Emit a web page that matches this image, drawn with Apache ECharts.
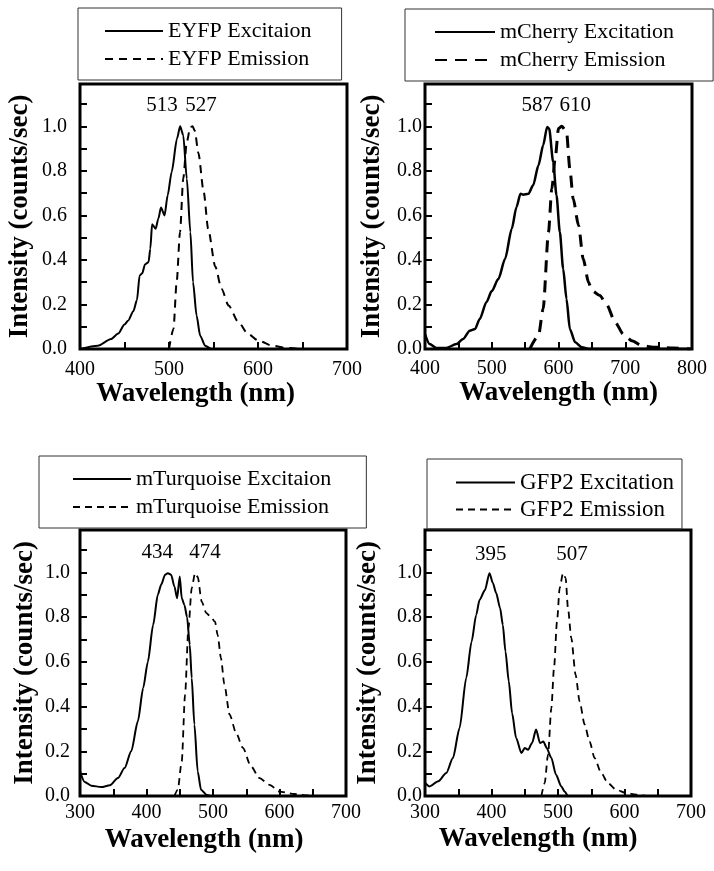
<!DOCTYPE html>
<html>
<head>
<meta charset="utf-8">
<script src="https://cdn.jsdelivr.net/npm/echarts@6/dist/echarts.min.js"></script>
<style>
  html, body { margin: 0; padding: 0; background: #fff; }
  #chart { width: 714px; height: 871px; }
</style>
</head>
<body>
<div id="chart"></div>
<script>
// spectra: [wavelength nm, normalised intensity]
const eyfpExcitation = [[400,0],[420,0.015],[435,0.045],[443,0.07],[450,0.11],[454,0.127],[460,0.17],[464,0.22],[467,0.33],[470,0.34],[473,0.38],[477,0.39],[479,0.45],[481,0.56],[485,0.54],[488,0.585],[491,0.635],[495,0.6],[498.5,0.69],[503,0.795],[509,0.945],[512.5,1.0],[516,0.96],[520,0.765],[524,0.525],[527,0.3],[531,0.15],[535,0.06],[540.6,0.015],[548,0],[700,0]]
const eyfpEmission = [[500,0],[505,0.09],[508.6,0.3],[512.4,0.525],[516,0.765],[520,0.93],[524,0.997],[526.5,1.0],[529,0.98],[533,0.88],[539,0.705],[544,0.54],[552,0.37],[559,0.27],[567,0.195],[578,0.12],[589,0.067],[600.7,0.037],[616,0.015],[631,0.005],[646,0]]

const mcherryExcitation = [[400,0.067],[407,0.022],[417,0.005],[432,0.005],[447,0.022],[457,0.045],[467,0.082],[475,0.09],[482,0.135],[492,0.21],[500,0.26],[510,0.315],[520,0.405],[530,0.54],[537,0.637],[543,0.697],[547,0.693],[555,0.697],[562,0.735],[570,0.825],[577,0.915],[583,0.997],[586,0.99],[592,0.84],[597,0.69],[602,0.525],[607,0.36],[612,0.225],[617,0.09],[625,0.03],[635,0.008],[647,0],[800,0]]
const mcherryEmission = [[557,0],[570,0.06],[577,0.18],[585,0.525],[590,0.72],[595,0.855],[600,0.99],[605,1.0],[612,0.975],[617,0.81],[622,0.675],[630,0.555],[637,0.405],[645,0.3],[650,0.262],[662,0.24],[672,0.2],[685,0.12],[697,0.067],[710,0.037],[725,0.015],[742,0.008],[772,0.005],[797,0]]

const mturqExcitation = [[300,0.11],[307,0.063],[317,0.046],[332,0.04],[345,0.048],[357,0.08],[367,0.125],[377,0.2],[387,0.334],[395,0.483],[402,0.6],[410,0.766],[417,0.9],[422,0.945],[428,0.99],[432,0.997],[437,0.99],[442,0.937],[446,0.885],[450,0.982],[453,0.885],[457,0.855],[461,0.8],[465,0.677],[468,0.528],[472,0.32],[477,0.11],[482,0.028],[490,0.006],[497,0],[700,0]]
const mturqEmission = [[442,0],[447,0.028],[453,0.155],[458,0.453],[463,0.75],[468,0.93],[473,0.997],[477,0.98],[483,0.87],[490,0.818],[497,0.8],[503,0.78],[507,0.72],[512,0.617],[517,0.5],[525,0.364],[535,0.28],[545,0.215],[557,0.133],[570,0.08],[585,0.05],[600,0.02],[622,0.009],[642,0.003],[652,0]]

const gfp2Excitation = [[300,0.058],[307,0.043],[320,0.066],[332,0.103],[342,0.17],[352,0.304],[362,0.528],[370,0.69],[377,0.81],[382,0.877],[390,0.92],[397,0.997],[402,0.953],[407,0.908],[413,0.84],[417,0.766],[421,0.647],[426,0.513],[431,0.37],[437,0.26],[445,0.192],[450,0.215],[455,0.207],[461,0.237],[467,0.297],[473,0.237],[478,0.244],[483,0.215],[490,0.17],[497,0.095],[505,0.043],[510,0.02],[515,0],[700,0]]
const gfp2Emission = [[475,0],[480,0.058],[485,0.185],[490,0.393],[494,0.572],[498.5,0.78],[502.5,0.93],[507.5,0.997],[511.5,0.975],[515,0.84],[520,0.706],[526.5,0.542],[532.5,0.423],[540,0.32],[547.5,0.244],[555,0.17],[565,0.103],[575,0.058],[587.5,0.028],[602.5,0.013],[617.5,0.006],[632,0]]

// peak annotations: [wavelength, intensity, text]
const eyfpPeaks = [[492,1.094,'513'],[536,1.094,'527']]
const mcherryPeaks = [[568,1.094,'587'],[625,1.094,'610']]
const mturqPeaks = [[416,1.09,'434'],[488,1.09,'474']]
const gfp2Peaks = [[399,1.08,'395'],[521,1.08,'507']]

const xRanges = [[400,700],[400,800],[300,700],[300,700]]

const FONT = '"Liberation Serif", "Times New Roman", serif'

const chart = echarts.init(document.getElementById('chart'))

const grids = [
  { left: 80, top: 84, width: 267, height: 265 },
  { left: 425, top: 84, width: 267, height: 265 },
  { left: 80, top: 530, width: 266, height: 266 },
  { left: 425, top: 530, width: 266, height: 266 }
].map(g => Object.assign(g, { show: true, borderColor: '#000', borderWidth: 3 }))

const yLabelMargin = [13, 3, 10, 3]
const yNameGap = [46, 39, 41, 43]
const xLabelMargin = [11, 10, 7, 7]
const xNameGap = [25, 27, 31, 30]
const xNamePad = [36, 0, 18, 40]

const xAxes = xRanges.map((r, i) => ({
  type: 'value', gridIndex: i, min: r[0], max: r[1], interval: 50,
  name: 'Wavelength (nm)', nameLocation: 'middle', nameGap: xNameGap[i],
  nameTextStyle: { fontFamily: FONT, fontSize: 27, fontWeight: 'bold', color: '#000', padding: [0, xNamePad[i], 0, 0] },
  axisLine: { show: false },
  axisTick: { inside: true, length: 7, lineStyle: { color: '#000', width: 2 } },
  axisLabel: {
    margin: xLabelMargin[i], fontFamily: FONT, fontSize: 20, color: '#000',
    formatter: v => (v % 100 === 0 ? String(v) : '')
  },
  splitLine: { show: false }
}))

const yAxes = [0, 1, 2, 3].map(i => ({
  type: 'value', gridIndex: i, min: 0, max: 1.19, interval: 0.1,
  name: 'Intensity (counts/sec)', nameLocation: 'middle', nameGap: yNameGap[i],
  nameTextStyle: { fontFamily: FONT, fontSize: 27, fontWeight: 'bold', color: '#000' },
  axisLine: { show: false },
  axisTick: { inside: true, length: 7, lineStyle: { color: '#000', width: 2 } },
  axisLabel: {
    margin: yLabelMargin[i], fontFamily: FONT, fontSize: 20, color: '#000',
    formatter: v => {
      const k = Math.round(v * 10)
      return Math.abs(v * 10 - k) < 1e-6 && k % 2 === 0 ? v.toFixed(1) : ''
    }
  },
  splitLine: { show: false }
}))

function spectrum(name, data, idx, dash, width) {
  return {
    type: 'line', name: name, data: data,
    xAxisIndex: idx, yAxisIndex: idx,
    showSymbol: false, symbol: 'none',
    smooth: 0.25, smoothMonotone: 'x',
    color: '#000',
    lineStyle: { color: '#000', width: width, type: dash || 'solid' },
    silent: true, z: 3
  }
}

function peaks(data, idx) {
  return {
    type: 'scatter', data: data, xAxisIndex: idx, yAxisIndex: idx,
    symbolSize: 0, silent: true,
    itemStyle: { color: 'rgba(0,0,0,0)', opacity: 1 },
    label: {
      show: true, position: 'inside', color: '#000',
      fontFamily: FONT, fontSize: 21,
      formatter: p => p.value[2]
    }
  }
}

function legendBox(names, left, top, padding, itemWidth, itemGap, fontSize) {
  return {
    data: names, orient: 'vertical', left: left, top: top,
    padding: padding, itemWidth: itemWidth, itemHeight: 14, itemGap: itemGap,
    borderColor: '#333', borderWidth: 1,
    selectedMode: false,
    itemStyle: { opacity: 0 },
    textStyle: { fontFamily: FONT, fontSize: fontSize, color: '#000' }
  }
}

chart.setOption({
  animation: false,
  backgroundColor: '#fff',
  grid: grids,
  xAxis: xAxes,
  yAxis: yAxes,
  legend: [
    legendBox(['EYFP Excitaion', 'EYFP Emission'], 78, 8, [12, 30, 10, 26], 58, 6, 22),
    legendBox(['mCherry Excitation', 'mCherry Emission'], 405, 9, [12, 39, 10, 29], 60, 6, 22),
    legendBox(['mTurquoise Excitaion', 'mTurquoise Emission'], 39, 456, [12, 35, 10, 33], 58, 6, 22),
    legendBox(['GFP2 Excitation', 'GFP2 Emission'], 427, 459, [12, 8, 8, 28], 59, 4, 23)
  ],
  series: [
    spectrum('EYFP Excitaion', eyfpExcitation, 0, null, 2),
    spectrum('EYFP Emission', eyfpEmission, 0, [8, 6], 2),
    spectrum('mCherry Excitation', mcherryExcitation, 1, null, 2.5),
    spectrum('mCherry Emission', mcherryEmission, 1, [12, 8], 3),
    spectrum('mTurquoise Excitaion', mturqExcitation, 2, null, 2),
    spectrum('mTurquoise Emission', mturqEmission, 2, [7, 5], 1.8),
    spectrum('GFP2 Excitation', gfp2Excitation, 3, null, 2),
    spectrum('GFP2 Emission', gfp2Emission, 3, [7, 5], 1.8),
    peaks(eyfpPeaks, 0),
    peaks(mcherryPeaks, 1),
    peaks(mturqPeaks, 2),
    peaks(gfp2Peaks, 3)
  ]
})
</script>
</body>
</html>
